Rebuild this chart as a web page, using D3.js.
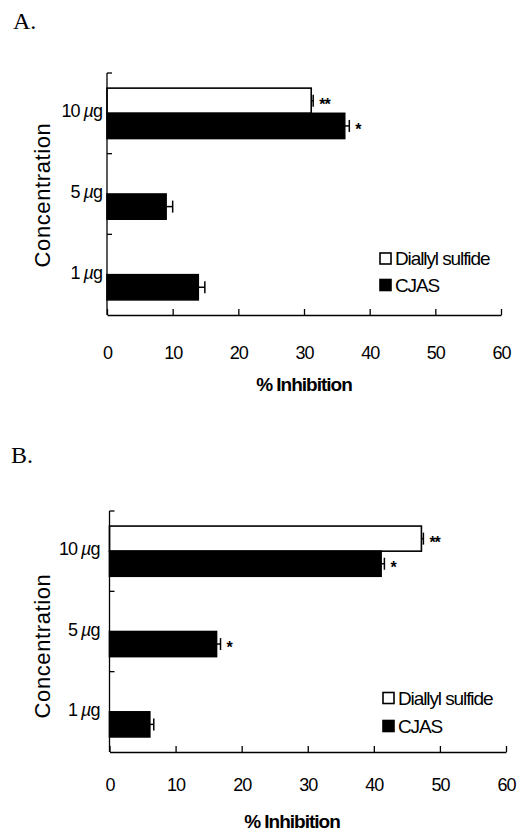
<!DOCTYPE html>
<html lang="en">
<head>
    <meta charset="UTF-8">
    <script src="https://d3js.org/d3.v7.min.js"></script>
    <title>% Inhibition</title>
    <style>
        body { margin: 0; background: #fff; }
        svg { display: block; }
        text { font-family: "Liberation Sans", Arial, sans-serif; fill: #000; }
        .panel-letter { font-family: "Liberation Serif", "DejaVu Serif", serif; font-size: 24px; }
        .axis path, .axis line { stroke: #000; stroke-width: 1.3; }
        .axis text { font-family: "Liberation Sans", Arial, sans-serif; letter-spacing: -1px; }
    </style>
</head>
<body>
<div id="chart"></div>
<script>
// Data
const concentrations = ["10", "5", "1"];
const unit = "µg";
const series = ["Diallyl sulfide", "CJAS"];
const xTicks = [0, 10, 20, 30, 40, 50, 60];

// Panel A
const aDiallyl = [31.1, null, null];
const aDiallylErr = [0.3, null, null];
const aDiallylSig = ["**", "", ""];
const aCjas = [36.2, 9.0, 13.9];
const aCjasErr = [0.7, 1.0, 1.0];
const aCjasSig = ["*", "", ""];

// Panel B
const bDiallyl = [47.2, null, null];
const bDiallylErr = [0.3, null, null];
const bDiallylSig = ["**", "", ""];
const bCjas = [41.1, 16.2, 6.1];
const bCjasErr = [0.5, 0.6, 0.6];
const bCjasSig = ["*", "*", ""];

const svg = d3.select("#chart").append("svg")
    .attr("width", 525)
    .attr("height", 835);

function drawPanel(cfg, data) {
    const g = svg.append("g");

    // panel letter
    g.append("text").attr("class", "panel-letter")
        .attr("x", cfg.letterX).attr("y", cfg.letterY)
        .text(cfg.letter);

    const x = d3.scaleLinear().domain([0, 60]).range([cfg.x0, cfg.x1]);
    const y = d3.scaleBand().domain(concentrations).range([cfg.yTop, cfg.yBot]).padding(0);
    const ySub = d3.scaleBand().domain(series).range([0, y.bandwidth()])
        .paddingInner(0).paddingOuter(0.6);

    // flatten to rows
    const rows = [];
    concentrations.forEach((c, i) => {
        data.forEach((s, k) => {
            if (s.values[i] != null) {
                rows.push({ conc: c, series: series[k], value: s.values[i], err: s.errs[i], sig: s.sig[i] });
            }
        });
    });

    // bars
    g.selectAll(".bar").data(rows).enter().append("rect")
        .attr("class", "bar")
        .attr("x", x(0))
        .attr("y", d => y(d.conc) + ySub(d.series))
        .attr("width", d => x(d.value) - x(0))
        .attr("height", ySub.bandwidth())
        .attr("fill", d => d.series === "CJAS" ? "#000" : "#fff")
        .attr("stroke", "#000")
        .attr("stroke-width", 1.6);

    // error bars
    const eb = g.selectAll(".err").data(rows).enter().append("g").attr("class", "err");
    eb.append("line")
        .attr("x1", d => x(d.value)).attr("x2", d => x(d.value + d.err))
        .attr("y1", d => y(d.conc) + ySub(d.series) + ySub.bandwidth() / 2)
        .attr("y2", d => y(d.conc) + ySub(d.series) + ySub.bandwidth() / 2)
        .attr("stroke", "#000").attr("stroke-width", 1.5);
    eb.append("line")
        .attr("x1", d => x(d.value + d.err)).attr("x2", d => x(d.value + d.err))
        .attr("y1", d => y(d.conc) + ySub(d.series) + ySub.bandwidth() / 2 - 6)
        .attr("y2", d => y(d.conc) + ySub(d.series) + ySub.bandwidth() / 2 + 6)
        .attr("stroke", "#000").attr("stroke-width", 1.5);

    // significance stars
    g.selectAll(".sig").data(rows.filter(d => d.sig)).enter().append("text")
        .attr("class", "sig")
        .attr("x", d => x(d.value + d.err) + 6)
        .attr("y", d => y(d.conc) + ySub(d.series) + ySub.bandwidth() / 2 + 9)
        .style("font-size", "16px")
        .style("font-weight", "bold")
        .style("letter-spacing", "-1px")
        .text(d => d.sig);

    // x axis
    g.append("g").attr("class", "axis")
        .attr("transform", `translate(0,${cfg.yBot})`)
        .call(d3.axisBottom(x).tickValues(xTicks).tickSizeInner(-6).tickSizeOuter(0)
            .tickPadding(cfg.tickPad).tickFormat(d3.format("d")))
        .selectAll("text").style("font-size", cfg.fontSize + "px");

    // y axis: line with ticks at band edges, pointing inward
    const edges = concentrations.map(c => y(c));
    const ya = g.append("g").attr("class", "axis");
    ya.append("line")
        .attr("x1", x(0)).attr("x2", x(0))
        .attr("y1", cfg.yTop).attr("y2", cfg.yBot);
    ya.selectAll(".ytick").data(edges).enter().append("line")
        .attr("class", "ytick")
        .attr("x1", x(0)).attr("x2", x(0) + 5)
        .attr("y1", d => d).attr("y2", d => d);

    // category labels
    const lab = g.selectAll(".ylab").data(concentrations).enter().append("text")
        .attr("class", "ylab")
        .attr("x", x(0) - cfg.labelGap)
        .attr("y", d => y(d) + y.bandwidth() / 2 + cfg.labelDy)
        .attr("text-anchor", "end")
        .style("font-size", cfg.fontSize + "px")
        .style("letter-spacing", "-1px");
    lab.append("tspan").text(d => d + " ");
    lab.append("tspan").style("font-style", "italic").text(unit.charAt(0));
    lab.append("tspan").text(unit.slice(1));

    // axis titles
    g.append("text")
        .attr("transform", `translate(${cfg.concX},${cfg.concY}) rotate(-90)`)
        .attr("text-anchor", "middle")
        .style("font-size", "22px")
        .style("letter-spacing", "0.6px")
        .text("Concentration");
    g.append("text")
        .attr("x", cfg.titleX).attr("y", cfg.titleY)
        .attr("text-anchor", "middle")
        .style("font-size", (cfg.fontSize + 1) + "px")
        .style("font-weight", "bold")
        .style("letter-spacing", "-1px")
        .text("% Inhibition");

    // legend
    const leg = g.selectAll(".leg").data(series).enter().append("g")
        .attr("class", "leg")
        .attr("transform", (d, i) => `translate(${cfg.legendX},${cfg.legendY[i]})`);
    leg.append("rect")
        .attr("x", 0).attr("y", -5.5).attr("width", 11).attr("height", 11)
        .attr("fill", d => d === "CJAS" ? "#000" : "#fff")
        .attr("stroke", "#000").attr("stroke-width", 1.6);
    leg.append("text")
        .attr("x", 15).attr("y", 6.5)
        .style("font-size", (cfg.fontSize + 1) + "px")
        .style("letter-spacing", "-1.1px")
        .text(d => d);
}

drawPanel({
    letter: "A.", letterX: 13, letterY: 29,
    x0: 107, x1: 501, yTop: 73, yBot: 315,
    tickPad: 31, fontSize: 18, labelGap: 5, labelDy: 4,
    concX: 50, concY: 195, titleX: 304, titleY: 391,
    legendX: 380, legendY: [258.5, 285]
}, [
    { values: aDiallyl, errs: aDiallylErr, sig: aDiallylSig },
    { values: aCjas, errs: aCjasErr, sig: aCjasSig }
]);

drawPanel({
    letter: "B.", letterX: 11, letterY: 463,
    x0: 109.5, x1: 506, yTop: 511, yBot: 752,
    tickPad: 26, fontSize: 18, labelGap: 10, labelDy: 4,
    concX: 50, concY: 646, titleX: 292, titleY: 828,
    legendX: 383, legendY: [698, 726]
}, [
    { values: bDiallyl, errs: bDiallylErr, sig: bDiallylSig },
    { values: bCjas, errs: bCjasErr, sig: bCjasSig }
]);
</script>
</body>
</html>
